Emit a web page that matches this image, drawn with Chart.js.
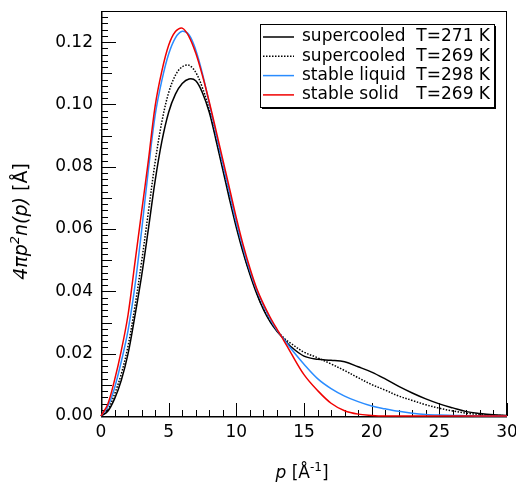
<!DOCTYPE html>
<html>
<head>
<meta charset="utf-8">
<script src="https://cdn.jsdelivr.net/npm/chart.js@4"></script>
<style>
html,body{margin:0;padding:0;background:#fff;}
#wrap{width:516px;height:485px;}
</style>
</head>
<body>
<div id="wrap"><canvas id="c" width="516" height="485"></canvas></div>
<script>
// momentum grid p [Å^-1]
const P = [0,0.5,1,1.5,2,2.5,3,3.5,4,4.5,5,5.5,6,6.5,7,7.5,8,8.5,9,9.5,10,10.5,11,11.5,12,12.5,13,13.5,14,15,16,17,18,19,20,21,22,23,24,25,26,27,28,29,30];

// supercooled T=271 K (black solid)
const super271 = [0,0.0015,0.0055,0.0115,0.02,0.032,0.045,0.06,0.0755,0.0882,
  0.0975,0.1033,0.1067,0.1082,0.1076,0.1037,0.0975,0.0885,0.079,0.0695,
  0.0605,0.0525,0.0455,0.0393,0.0342,0.0302,0.0272,0.0248,0.0224,
  0.0192,0.0182,0.0179,0.0174,0.0158,0.0141,0.0119,0.0095,0.0074,0.0055,0.0039,0.0026,0.0014,0.0008,0.0004,0.0002];
// supercooled T=269 K (black dotted)
const super269 = [0,0.002,0.007,0.0135,0.0225,0.035,0.0495,0.0655,0.0815,0.0945,
  0.1038,0.1094,0.1121,0.1126,0.1103,0.1053,0.0983,0.0892,0.08,0.0707,
  0.0613,0.053,0.0458,0.0395,0.0345,0.0305,0.0275,0.0251,0.0234,
  0.0205,0.0187,0.0167,0.0146,0.0123,0.0101,0.0083,0.0064,0.005,0.0036,0.0025,0.0016,0.0009,0.0005,0.0002,0.0001];
// stable liquid T=298 K (blue)
const liquid298 = [0,0.003,0.009,0.0175,0.0275,0.0415,0.0595,0.079,0.0965,0.1078,
  0.1162,0.1214,0.1235,0.1224,0.1175,0.1098,0.1003,0.0906,0.081,0.0716,
  0.0622,0.054,0.0467,0.0405,0.0355,0.0312,0.0276,0.0247,0.0218,
  0.0166,0.012,0.0088,0.0064,0.0046,0.0032,0.0023,0.0015,0.0009,0.0005,0.0003,0.0002,0.0001,0,0,0];
// stable solid T=269 K (red)
const solid269 = [0,0.0038,0.0115,0.021,0.0325,0.049,0.0655,0.082,0.0995,0.1108,
  0.119,0.1234,0.1245,0.1218,0.1165,0.1092,0.1008,0.0916,0.0823,0.073,
  0.0636,0.055,0.0475,0.041,0.036,0.0317,0.0279,0.0243,0.0205,
  0.0133,0.0082,0.0041,0.0017,0.0006,0.0002,0,0,0,0,0,0,0,0,0,0];

const seriesNames = ['supercooled','supercooled','stable liquid','stable solid'];
const seriesTemps = ['T=271 K','T=269 K','T=298 K','T=269 K'];
const seriesValues = [super271, super269, liquid298, solid269];
const seriesColors = ['#000000','#000000','#2a8cff','#f00000'];
const seriesDash = [[],[1.5,1.5],[],[]];
const seriesOrder = [3,2,1,0];

const xTickLabels = ['0','5','10','15','20','25','30'];
const yTickLabels = ['0.00','0.02','0.04','0.06','0.08','0.10','0.12'];

const FONT = 'DejaVu Sans';

const datasets = seriesValues.map((vals,i)=>({
  label: seriesNames[i]+' '+seriesTemps[i],
  data: P.map((p,j)=>({x:p,y:vals[j]})),
  borderColor: seriesColors[i],
  borderWidth: 1.5,
  borderDash: seriesDash[i],
  pointRadius: 0,
  fill: false,
  tension: 0.35,
  order: seriesOrder[i],
  clip: 3
}));

const frameTicks = {
  id:'frameTicks',
  beforeDatasetsDraw(chart){
    const ctx = chart.ctx, xs = chart.scales.x, ys = chart.scales.y, a = chart.chartArea;
    ctx.save();
    ctx.strokeStyle = '#000';
    ctx.lineWidth = 1;
    ctx.strokeRect(a.left+0.5, a.top+0.5, a.right-a.left-1, a.bottom-a.top);
    ctx.lineWidth = 1.5;
    ctx.beginPath();
    ctx.moveTo(a.left+0.75, a.top); ctx.lineTo(a.left+0.75, a.bottom+0.75);
    ctx.lineTo(a.right, a.bottom+0.75);
    ctx.stroke();
    ctx.lineWidth = 1;
    ctx.beginPath();
    for(let i=0;i<=30;i++){
      const x = Math.round(xs.getPixelForValue(i))+0.5;
      const len = (i%5===0)?13:6;
      ctx.moveTo(x, a.bottom); ctx.lineTo(x, a.bottom-len);
    }
    for(let i=0;i<=65;i++){
      const y = Math.round(ys.getPixelForValue(i*0.002))+0.5;
      const len = (i%10===0)?15:((i%5===0)?11:7);
      ctx.moveTo(a.left, y); ctx.lineTo(a.left+len, y);
    }
    ctx.stroke();
    ctx.restore();
  },
  afterDraw(chart){
    const ctx = chart.ctx, a = chart.chartArea;
    ctx.save();
    ctx.fillStyle = '#000';
    ctx.textBaseline = 'alphabetic';
    // x title: p [Å^-1]
    const xParts = [
      {t:'p', f:'italic 17px "'+FONT+'"', dy:0},
      {t:' [Å', f:'17px "'+FONT+'"', dy:0},
      {t:'-1', f:'12px "'+FONT+'"', dy:-7},
      {t:']', f:'17px "'+FONT+'"', dy:0}
    ];
    drawParts(ctx, xParts, (a.left+a.right)/2 - 2, 478);
    // y title: 4πp²n(p) [Å]
    ctx.save();
    ctx.translate(27, (a.top+a.bottom)/2 + 8);
    ctx.rotate(-Math.PI/2);
    const yParts = [
      {t:'4πp', f:'italic 19px "'+FONT+'"', dy:0},
      {t:'2', f:'italic 13px "'+FONT+'"', dy:-8},
      {t:'n(p)', f:'italic 19px "'+FONT+'"', dy:0},
      {t:' [Å]', f:'19px "'+FONT+'"', dy:0}
    ];
    drawParts(ctx, yParts, 0, 0);
    ctx.restore();

    // legend box
    const bx=260, by=24, bw=234, bh=83;
    ctx.fillStyle = '#000';
    ctx.fillRect(bx+2, by+bh, bw, 2);
    ctx.fillRect(bx+bw, by+2, 2, bh);
    ctx.fillStyle = '#fff';
    ctx.fillRect(bx, by, bw, bh);
    ctx.strokeStyle = '#000';
    ctx.lineWidth = 1;
    ctx.strokeRect(bx+0.5, by+0.5, bw, bh);
    const ds = chart.data.datasets;
    ctx.font = '17px "'+FONT+'"';
    for(let i=0;i<ds.length;i++){
      const yc = 37 + i*19.3;
      ctx.save();
      ctx.strokeStyle = ds[i].borderColor;
      ctx.lineWidth = 1.5;
      ctx.setLineDash(ds[i].borderDash);
      ctx.beginPath(); ctx.moveTo(263, yc); ctx.lineTo(294, yc); ctx.stroke();
      ctx.restore();
      ctx.fillStyle = '#000';
      ctx.textBaseline = 'middle';
      ctx.textAlign = 'left';
      ctx.fillText(seriesNames[i], 302, yc);
      ctx.textAlign = 'right';
      ctx.fillText(seriesTemps[i], 490, yc);
    }
    ctx.restore();
  }
};

function drawParts(ctx, parts, cx, y){
  let total = 0;
  parts.forEach(p=>{ctx.font=p.f; p.w=ctx.measureText(p.t).width; total+=p.w;});
  let x = cx - total/2;
  ctx.textAlign = 'left';
  parts.forEach(p=>{ctx.font=p.f; ctx.fillText(p.t, x, y+p.dy); x+=p.w;});
}

new Chart(document.getElementById('c'), {
  type:'line',
  data:{datasets},
  options:{
    responsive:false,
    animation:false,
    layout:{padding:{top:11,right:9,left:0,bottom:0}},
    plugins:{legend:{display:false}, tooltip:{enabled:false}},
    scales:{
      x:{
        type:'linear', min:0, max:30,
        grid:{display:false, drawTicks:false}, border:{display:false},
        ticks:{stepSize:5, color:'#000', font:{family:FONT,size:17}, padding:6, maxRotation:0, autoSkip:false,
          callback:(v)=>{const i=Math.round(v/5); return (Math.abs(v-i*5)<1e-9)?xTickLabels[i]:'';}},
        afterFit(s){s.height=69; s.paddingLeft=0; s.paddingRight=0; s.paddingTop=0; s.paddingBottom=0;}
      },
      y:{
        type:'linear', min:0, max:0.13,
        grid:{display:false, drawTicks:false}, border:{display:false},
        ticks:{stepSize:0.02, includeBounds:false, color:'#000', font:{family:FONT,size:17}, padding:8,
          callback:(v)=>{const i=Math.round(v/0.02); return (Math.abs(v-i*0.02)<1e-9 && i<yTickLabels.length)?yTickLabels[i]:'';}},
        afterFit(s){s.width=101; s.paddingLeft=0; s.paddingRight=0; s.paddingTop=0; s.paddingBottom=0;}
      }
    }
  },
  plugins:[frameTicks]
});
</script>
</body>
</html>
